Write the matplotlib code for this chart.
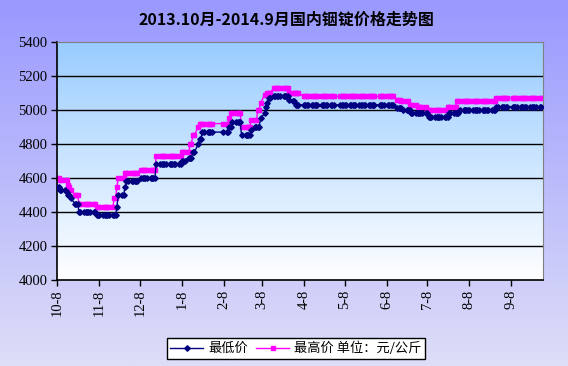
import matplotlib
matplotlib.use("Agg")
import matplotlib.pyplot as plt
import matplotlib.dates as mdates
import numpy as np
import pandas as pd

plt.rcParams['font.family'] = ['Noto Sans CJK SC', 'DejaVu Sans']

# price change points (date, yuan/kg)
low_dates = ['2013-10-08', '2013-10-10', '2013-10-15', '2013-10-16', '2013-10-18',
             '2013-10-21', '2013-10-24', '2013-11-06', '2013-11-21', '2013-11-22',
             '2013-11-27', '2013-11-28', '2013-12-09', '2013-12-20', '2014-01-08',
             '2014-01-13', '2014-01-16', '2014-01-20', '2014-01-21', '2014-01-23',
             '2014-02-12', '2014-02-14', '2014-02-21', '2014-02-28', '2014-03-03',
             '2014-03-07', '2014-03-10', '2014-03-11', '2014-03-12', '2014-03-13',
             '2014-03-17', '2014-03-28', '2014-03-31', '2014-04-02', '2014-06-16',
             '2014-06-20', '2014-06-26', '2014-07-09', '2014-07-24', '2014-08-01',
             '2014-08-28']
low_vals = [4550, 4530, 4520, 4500, 4480,
            4450, 4400, 4380, 4430, 4500,
            4550, 4580, 4600, 4680, 4700,
            4720, 4750, 4800, 4830, 4870,
            4900, 4930, 4850, 4880, 4900,
            4950, 4980, 5020, 5040, 5070,
            5080, 5060, 5050, 5030, 5010,
            5000, 4980, 4960, 4980, 5000,
            5020]

high_dates = ['2013-10-08', '2013-10-10', '2013-10-16', '2013-10-17', '2013-10-18',
              '2013-10-21', '2013-10-24', '2013-11-06', '2013-11-19', '2013-11-21',
              '2013-11-22', '2013-11-27', '2013-12-09', '2013-12-20', '2014-01-08',
              '2014-01-14', '2014-01-16', '2014-01-20', '2014-01-21', '2014-02-12',
              '2014-02-13', '2014-02-21', '2014-02-28', '2014-03-05', '2014-03-07',
              '2014-03-10', '2014-03-12', '2014-03-17', '2014-03-28', '2014-04-08',
              '2014-06-16', '2014-06-19', '2014-06-25', '2014-07-01', '2014-07-08',
              '2014-07-23', '2014-07-30', '2014-08-28']
high_vals = [4600, 4590, 4560, 4550, 4530,
             4500, 4450, 4430, 4480, 4550,
             4600, 4630, 4650, 4730, 4750,
             4800, 4850, 4900, 4920, 4950,
             4980, 4900, 4940, 5000, 5040,
             5090, 5100, 5130, 5100, 5080,
             5060, 5050, 5030, 5020, 5000,
             5020, 5050, 5070]

holidays = ['2014-01-31', '2014-02-03', '2014-02-04', '2014-02-05', '2014-02-06',
            '2014-04-07', '2014-05-01', '2014-05-02', '2014-06-02', '2014-09-08']

tick_labels = ['10-8', '11-8', '12-8', '1-8', '2-8', '3-8',
               '4-8', '5-8', '6-8', '7-8', '8-8', '9-8']
tick_dates = ['2013-10-08', '2013-11-08', '2013-12-08', '2014-01-08', '2014-02-08',
              '2014-03-08', '2014-04-08', '2014-05-08', '2014-06-08', '2014-07-08',
              '2014-08-08', '2014-09-08']

days = pd.bdate_range('2013-10-08', '2014-09-30')
days = days[~days.isin(pd.to_datetime(holidays))]
low = pd.Series(low_vals, index=pd.to_datetime(low_dates)).reindex(days, method='ffill')
high = pd.Series(high_vals, index=pd.to_datetime(high_dates)).reindex(days, method='ffill')

fig = plt.figure(figsize=(5.68, 3.66), dpi=100)

# figure background gradient
bg = fig.add_axes([0, 0, 1, 1], zorder=-10)
top_c = np.array([0x99, 0x99, 0xFF]) / 255
bot_c = np.array([0xDE, 0xDE, 0xF8]) / 255
t = np.linspace(0, 1, 256)[:, None]
grad = top_c * (1 - t) + bot_c * t
bg.imshow(grad[:, None, :].repeat(2, axis=1), aspect='auto', extent=[0, 1, 0, 1])
bg.axis('off')

ax = fig.add_axes([57.3 / 568, 1 - 280 / 366, (543.3 - 57.3) / 568, (280 - 42) / 366])
x0 = mdates.date2num(pd.Timestamp('2013-10-08'))
x1 = x0 + 358.7
ax.set_xlim(x0, x1)
ax.set_ylim(4000, 5400)

p_top = np.array([0x99, 0xCC, 0xFF]) / 255
p_bot = np.array([1.0, 1.0, 1.0])
pgrad = p_top * (1 - t) + p_bot * t
ax.imshow(pgrad[:, None, :].repeat(2, axis=1), aspect='auto',
          extent=[x0, x1, 4000, 5400], zorder=0)

for v in range(4200, 5400, 200):
    ax.axhline(v, color='black', lw=1, zorder=1)

ax.plot(days, low.values, color='#000080', lw=1, marker='D', ms=2.8,
        mec='#000080', zorder=3, label='最低价')
ax.plot(days, high.values, color='#FF00FF', lw=1, marker='s', ms=2.8,
        mec='#FF00FF', zorder=2, label='最高价 单位：元/公斤')

ax.set_yticks(range(4000, 5401, 200))
ax.set_yticklabels([str(v) for v in range(4000, 5401, 200)],
                   family='Liberation Serif', fontsize=10.5)
ax.set_xticks(pd.to_datetime(tick_dates))
ax.set_xticklabels(tick_labels, rotation=90, family='Liberation Serif', fontsize=10.5)
ax.tick_params(axis='both', direction='out', length=4, width=1, color='black', pad=3)

for side in ['top', 'right']:
    ax.spines[side].set_color('#808080')
for side in ['left', 'bottom']:
    ax.spines[side].set_color('black')
    ax.spines[side].set_linewidth(1.2)

fig.text(0.505, 0.945, '2013.10月-2014.9月国内铟锭价格走势图',
         ha='center', va='center', fontsize=11.5, fontweight='bold')

leg = fig.legend(loc='center', bbox_to_anchor=(296 / 568, 1 - 348.5 / 366), ncol=2,
                 frameon=True, fancybox=False, fontsize=9.5, handlelength=2.5,
                 columnspacing=0.6, handletextpad=0.4, borderpad=0.25)
leg.get_frame().set_edgecolor('black')
leg.get_frame().set_facecolor('white')
leg.get_frame().set_alpha(1)

fig.savefig('out.png', dpi=100)
